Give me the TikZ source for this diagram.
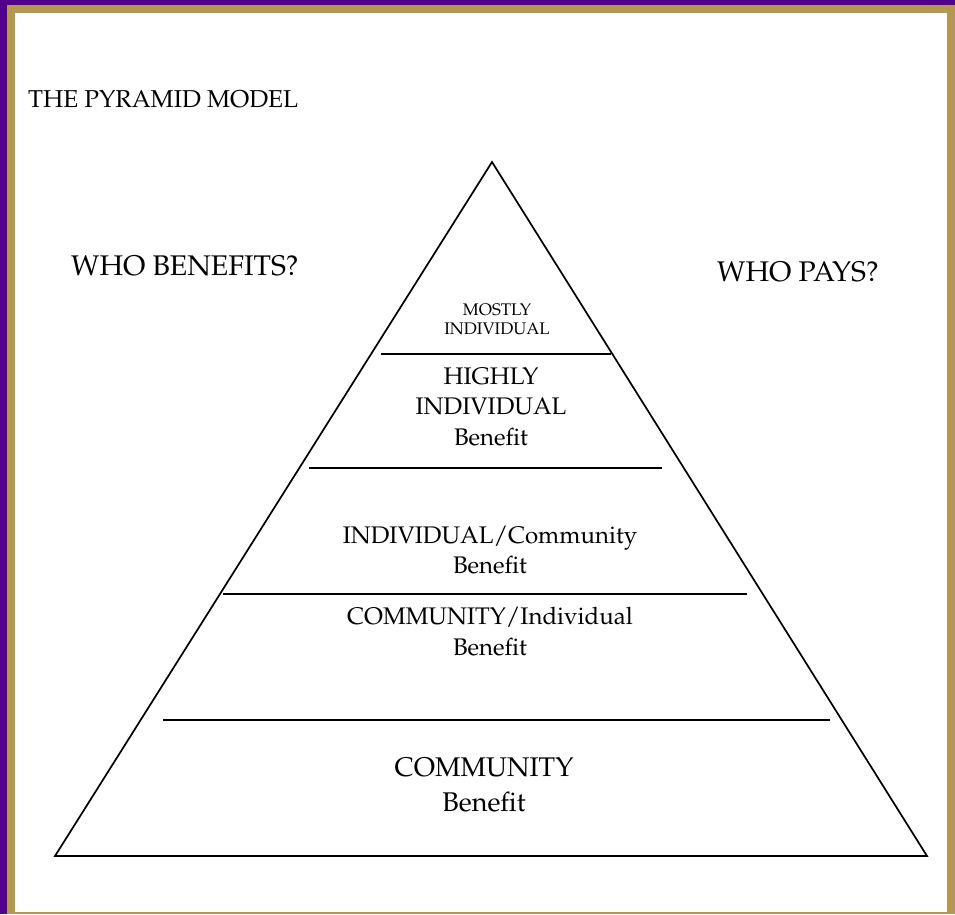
\documentclass[tikz,border=0pt]{standalone}
\usepackage[T1]{fontenc}
\renewcommand{\rmdefault}{ppl}
\usepackage{tikz}

\definecolor{framepurple}{RGB}{81,0,142}
\definecolor{framegold}{RGB}{181,150,82}

\begin{document}
\begin{tikzpicture}[x=1pt,y=-1pt,
    tier/.style={anchor=base,align=center,inner sep=0pt},
    rule/.style={line width=1.7pt}]
    % frame
    \fill[framepurple] (0,0) rectangle (955,914);
    \fill[framegold] (7,5) rectangle (955,914);
    \fill[white] (15,13) rectangle (947,912);
    \useasboundingbox (0,0) rectangle (955,914);
    % headings
    \node[anchor=base west,inner sep=0pt,font=\fontsize{24.4}{28}\selectfont] (title) at (28,107) {THE PYRAMID MODEL};
    \node[anchor=base west,inner sep=0pt,font=\fontsize{28.4}{34}\selectfont] (benefits) at (71,275) {WHO BENEFITS?};
    \node[anchor=base west,inner sep=0pt,font=\fontsize{28.4}{34}\selectfont] (pays) at (717,281) {WHO PAYS?};
    % pyramid
    \coordinate (apex) at (492,162);
    \coordinate (baseL) at (55,856);
    \coordinate (baseR) at (927,856);
    \draw[rule,line join=miter] (apex) -- (baseR) -- (baseL) -- cycle;
    \coordinate (r1L) at (381,354);
    \coordinate (r1R) at (611,354);
    \coordinate (r2L) at (309,468);
    \coordinate (r2R) at (662,468);
    \coordinate (r3L) at (223,594);
    \coordinate (r3R) at (747,594);
    \coordinate (r4L) at (163,720);
    \coordinate (r4R) at (830,720);
    \draw[rule] (r1L) -- (r1R);
    \draw[rule] (r2L) -- (r2R);
    \draw[rule] (r3L) -- (r3R);
    \draw[rule] (r4L) -- (r4R);
    % tiers (placed by the baseline of their last line)
    \node[tier,font=\fontsize{16.8}{19}\selectfont] (mostly) at (497,334) {MOSTLY\\INDIVIDUAL};
    \node[tier,font=\fontsize{24}{30.5}\selectfont] (highly) at (491,445) {HIGHLY\\INDIVIDUAL\\Benefit};
    \node[tier,font=\fontsize{24}{30}\selectfont] (indcom) at (490,573) {INDIVIDUAL/Community\\Benefit};
    \node[tier,font=\fontsize{24}{31}\selectfont] (comind) at (490,655) {COMMUNITY/Individual\\Benefit};
    \node[tier,font=\fontsize{27}{35}\selectfont] (community) at (484,811) {COMMUNITY\\Benefit};
\end{tikzpicture}
\end{document}
